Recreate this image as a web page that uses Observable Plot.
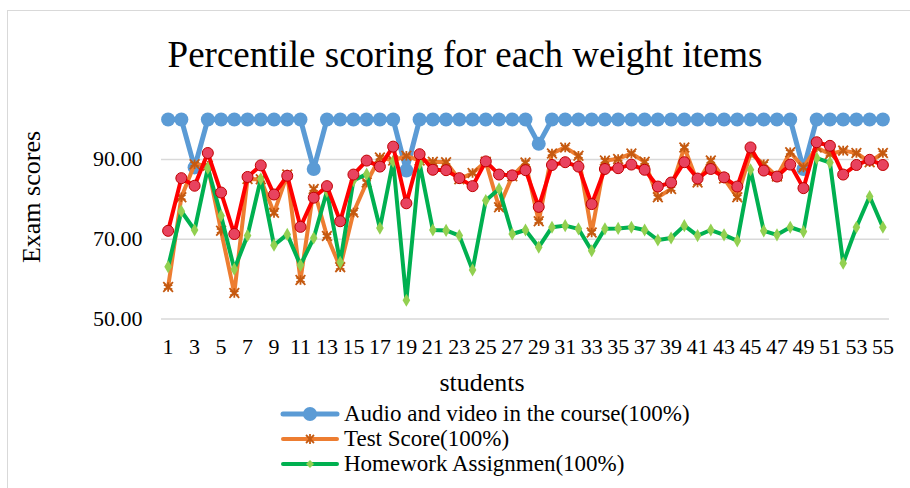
<!DOCTYPE html>
<html>
<head>
<meta charset="utf-8">
<script src="https://cdn.jsdelivr.net/npm/d3@7"></script>
<script src="https://cdn.jsdelivr.net/npm/@observablehq/plot@0.6"></script>
<style>
  html, body { margin: 0; padding: 0; background: #fff; }
  #wrap { position: relative; width: 910px; height: 488px; overflow: hidden; background: #fff; font-family: "Liberation Serif", "Times New Roman", serif; color: #000; }
  #frame { position: absolute; left: 7px; top: 10px; width: 960px; height: 560px; border-left: 1.5px solid #d9d9d9; border-top: 1.5px solid #d9d9d9; }
  .txt { position: absolute; white-space: nowrap; }
  #title { left: 0; width: 930px; text-align: center; top: 33px; font-size: 37px; line-height: 44px; }
  #xlab { left: 382px; width: 200px; text-align: center; top: 368px; font-size: 26px; line-height: 30px; }
  #ylab { left: 32px; top: 197px; font-size: 26px; line-height: 30px; transform: translate(-50%, -50%) rotate(-90deg); }
  #chart { position: absolute; left: 0; top: 0; }
  .leg { position: absolute; left: 280px; height: 24px; display: flex; align-items: center; font-size: 23px; }
  .leg svg { margin-right: 4px; }
</style>
</head>
<body>
<div id="wrap">
  <div id="frame"></div>
  <div id="chart"></div>
  <div id="title" class="txt">Percentile scoring for each weight items</div>
  <div id="ylab" class="txt">Exam scores</div>
  <div id="xlab" class="txt">students</div>
  <div id="legend"></div>
</div>
<script>
const students = d3.range(1, 56);
const xTickLabels = students.filter(d => d % 2 === 1);
const yTicks = [50, 70, 90];

const audioVideo = [100,100,88,100,100,100,100,100,100,100,100,87.6,100,100,100,100,100,100,87.2,100,100,100,100,100,100,100,100,100,93.9,100,100,100,100,100,100,100,100,100,100,100,100,100,100,100,100,100,100,100,87.6,100,100,100,100,100,100];
const testScore = [58,80.5,88.8,88.4,72.1,56.5,85.1,85,76.6,86.2,59.8,82.6,70.8,63,76.7,84.2,90.5,89.7,90.9,89.7,89.4,89.3,85,86.6,89.4,78,85.8,89.2,74.5,91.5,93,90.9,71.7,89.7,90.1,91.5,89.4,80.5,82.6,93,84.2,89.7,85.2,80.5,91.5,88.8,85.7,91.8,88,93,91.3,92.2,91.6,89.3,91.6];
const homework = [63.1,77,72.3,87.8,75.9,62.5,70.9,85.1,68.5,71.2,63.5,70.3,82,64.2,84.7,86.3,72.8,89.5,54.7,89,72.3,72.2,70.9,62.3,79.7,82.6,71.3,72.3,68,73,73.4,72.6,67.1,72.6,72.7,73,72.3,69.8,70.3,73.4,70.9,72.3,71.1,69.6,87.4,72.1,71.1,73,71.9,90.3,89.2,64,73,80.7,73];
const total = [72.1,85.3,83.4,91.6,81.7,71.3,85.6,88.5,81.2,85.9,73.1,80.4,83.3,74.5,86.2,89.7,88.2,93.2,79,91.3,87.4,87.3,85.3,83.3,89.5,86.2,86,87.3,78.1,88.6,89.3,88.2,78.8,87.6,87.8,88.7,87.4,83.2,84.2,89.3,85.2,87.6,85.5,83.2,93,87.2,85.7,88.7,82.8,94.3,93.4,86.2,88.6,89.9,88.6];

const seriesNames = ["Audio and video in the course(100%)", "Test Score(100%)", "Homework Assignmen(100%)"];

const rows = (vals) => students.map((s, i) => ({student: s, value: vals[i]}));
const A = rows(audioVideo), T = rows(testScore), H = rows(homework), R = rows(total);

const chart = Plot.plot({
  width: 910,
  height: 400,
  marginLeft: 161,
  marginRight: 21,
  marginTop: 119,
  marginBottom: 81.5,
  style: {fontFamily: "'Liberation Serif', 'Times New Roman', serif", fontSize: "22px", color: "#000", background: "transparent", overflow: "visible"},
  x: {type: "point", domain: students, padding: 0.5, round: false},
  y: {domain: [50, 100]},
  marks: [
    Plot.gridY(yTicks, {stroke: "#d9d9d9", strokeOpacity: 1, strokeWidth: 1.5}),
    Plot.axisY(yTicks, {tickSize: 0, tickPadding: 19, tickFormat: d => d.toFixed(2), fontSize: 22, label: null}),
    Plot.axisX(xTickLabels, {tickSize: 0, tickPadding: 19.5, fontSize: 22, label: null}),
    Plot.line(A, {x: "student", y: "value", stroke: "#5b9bd5", strokeWidth: 5}),
    Plot.dot(A, {x: "student", y: "value", r: 7, fill: "#5b9bd5"}),
    Plot.line(T, {x: "student", y: "value", stroke: "#ed7d31", strokeWidth: 4}),
    Plot.dot(T, {x: "student", y: "value", r: 4.5, symbol: "asterisk", stroke: "#c55a11", strokeWidth: 1.8}),
    Plot.dot(T, {x: "student", y: "value", r: 4.5, symbol: "times", stroke: "#c55a11", strokeWidth: 1.8}),
    Plot.line(H, {x: "student", y: "value", stroke: "#00b050", strokeWidth: 4}),
    Plot.dot(H, {x: "student", y: "value", r: 4, symbol: "diamond", fill: "#92d050"}),
    Plot.line(R, {x: "student", y: "value", stroke: "#ff0000", strokeWidth: 4}),
    Plot.dot(R, {x: "student", y: "value", r: 5.5, fill: "#e8435f", stroke: "#c00000", strokeWidth: 1})
  ]
});
document.getElementById("chart").appendChild(chart);

const legendDefs = [
  {name: seriesNames[0], color: "#5b9bd5", w: 5, marker: "circle"},
  {name: seriesNames[1], color: "#ed7d31", w: 4, marker: "star"},
  {name: seriesNames[2], color: "#00b050", w: 4, marker: "diamond"}
];
const legend = document.getElementById("legend");
const centers = [414, 439, 464];
legendDefs.forEach((d, i) => {
  const row = document.createElement("div");
  row.className = "leg";
  row.style.top = (centers[i] - 12) + "px";
  let m = "";
  if (d.marker === "circle") m = `<circle cx="30" cy="12" r="7" fill="${d.color}"/>`;
  if (d.marker === "star") m = `<g stroke="#c55a11" stroke-width="1.8"><line x1="26" y1="8" x2="34" y2="16"/><line x1="26" y1="16" x2="34" y2="8"/><line x1="30" y1="7" x2="30" y2="17"/></g>`;
  if (d.marker === "diamond") m = `<path d="M30 8 L34 12 L30 16 L26 12 Z" fill="#92d050"/>`;
  row.innerHTML = `<svg width="60" height="24"><line x1="3" y1="12" x2="57" y2="12" stroke="${d.color}" stroke-width="${d.w}" stroke-linecap="round"/>${m}</svg><span>${d.name}</span>`;
  legend.appendChild(row);
});
</script>
</body>
</html>
